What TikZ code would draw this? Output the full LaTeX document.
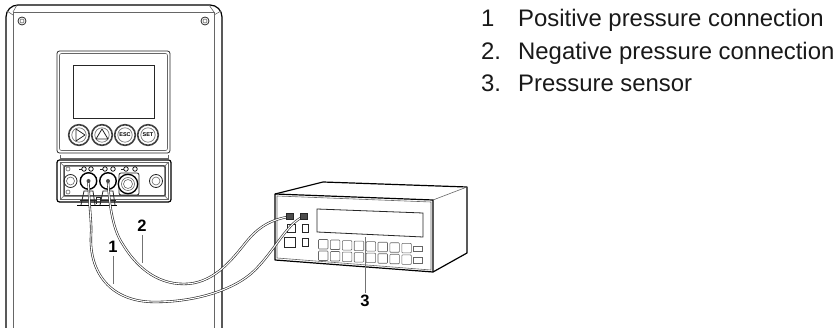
\documentclass[tikz,border=0pt]{standalone}
\usepackage{fontspec}
\setmainfont{Liberation Sans}
\begin{document}
\begin{tikzpicture}[x=1pt,y=-1pt,
  heavy/.style={line width=1.2pt,black},
  med/.style={line width=.8pt,black!85},
  thin/.style={line width=.6pt,black!60},
  leader/.style={line width=.8pt,black!55},
  cable/.style={line width=.6pt,black!85,double=white,double distance=1.1pt},
  listtext/.style={anchor=base west,inner sep=0pt,font=\fontsize{23.9}{26}\selectfont,text=black!90},
  callout/.style={inner sep=0pt,font=\fontsize{16.5}{18}\selectfont\bfseries},
  btnlabel/.style={inner sep=0pt,font=\fontsize{5.5}{6}\selectfont\bfseries},
  port/.style={circle,draw,line width=.7pt,inner sep=0pt,minimum size=4.5pt},
  hose/.style={circle,draw,line width=1.4pt,inner sep=0pt,minimum size=16.5pt},
  jack/.style={draw=black!85,fill=black!70,line width=.6pt,inner sep=0pt,minimum width=6.5pt,minimum height=6pt}]
\useasboundingbox (0,0) rectangle (839,328);
% housing
\draw[heavy] (6,328) -- (6,17) to[out=90,in=180] (18,5) -- (210,5) to[out=0,in=90] (222,17) -- (222,328);
\draw[thin] (13,328) -- (13,12) -- (214,12) -- (214,328);
\draw[thin] (7,11) -- (13,15) (13,12) -- (17,5) (214,12) -- (209,5) (214,15) -- (221,11);
\foreach \p in {(22,21),(205,21)} {
  \draw[med] \p circle (4); \draw[thin] \p circle (2);}
% control panel
\draw[med,rounded corners=2.5] (57,51) rectangle (170,153);
\draw[thin,rounded corners=2] (59.5,53.5) rectangle (167.5,150.5);
\draw[med] (73,65) rectangle (154,118);
\foreach \cx/\t in {79/,102/,125/ESC,148/SET} {
  \draw[line width=1.6pt,black!75] (\cx,135) circle (10.3);
  \draw[thin] (\cx,135) circle (7.2);
  \node[btnlabel] at (\cx,135) {\t};}
\draw[med,line join=round] (76,129) -- (85,135) -- (76,141) -- cycle;
\draw[med,line join=round] (102,129) -- (108,139) -- (96,139) -- cycle;
% connector panel
\draw[thin] (60,155) -- (60,158) -- (168,158) -- (168,155);
\draw[heavy,rounded corners=2.5] (57,160) rectangle (171,202);
\draw[line width=1.5pt,black!70,rounded corners=1] (64,166) rectangle (165,196);
\draw[thin] (60,162.5) rectangle (168,199.5);
\draw[thin] (60,162.5) -- (64,166) (168,162.5) -- (165,166) (60,199.5) -- (64,196) (168,199.5) -- (165,196);
\foreach \x in {84,91,105,113,126,135} \node[port] at (\x,169) {};
\foreach \x in {79,100,121} \draw[med] (\x,169.5) -- (\x+3,169.5);
\foreach \p in {(68,169),(68,192)} \draw[thin] \p circle (2);
\draw[med] (70.5,181) circle (6.5); \draw[thin] (70.5,181) circle (4);
\draw[med] (156,181) circle (6.5); \draw[thin] (156,181) circle (4);
\node[hose] (portA) at (88.5,181) {};
\node[hose] (portB) at (108,181) {};
\draw[med,rounded corners=2] (119,173) rectangle (139,195);
\draw[line width=1.3pt,fill=white] (128,184) circle (9.7);
\draw[thin] (128,184) circle (6.5);
\draw[thin] (128,184) circle (4.5);
% brackets
\draw[heavy] (77,205.5) -- (117,205.5);
\draw[med] (81,205) -- (84,191) -- (93,191) -- (95,205) (100,205) -- (103,191) -- (113,191) -- (115,205);
\draw[med] (80,200.5) -- (96,200.5) (100,200.5) -- (116,200.5);
\draw[med] (96,204) -- (96,197) -- (100,197) -- (100,204);
% meter
\draw[heavy,line join=round] (275,194) -- (323,182) -- (467,187) -- (467,253) -- (433,272) -- (275,260) -- cycle;
\draw[heavy] (275,194) -- (433,200) -- (433,272);
\draw[thin] (433,200) -- (467,187);
\draw[thin] (277,196) -- (431,202) -- (431,270) -- (277,258) -- cycle;
\draw[med] (317,209) -- (423,213) -- (423,237) -- (317,232) -- cycle;
\foreach \i in {0,...,7} {
  \pgfmathsetmacro{\kx}{318.5+11.9*\i}
  \pgfmathsetmacro{\ky}{239.5+.55*\i}
  \draw[thin,rounded corners=.8] (\kx,\ky) rectangle +(9.5,9.5);
  \draw[thin,rounded corners=.8] (\kx,\ky+11.5) rectangle +(9.5,9.5);}
\draw[thin] (413,246) rectangle (422,251.5);
\draw[thin] (413,257.5) rectangle (422,263);
\draw[med] (287,224) rectangle (295,232);
\draw[med] (302,224) rectangle (308,232);
\draw[med] (284,237) rectangle (295,247);
\draw[med] (302,238) rectangle (308,246);
\node[jack] (connA) at (290,216.5) {};
\node[jack] (connB) at (304,216.5) {};
% cables
\draw[cable] (portB.center) .. controls (109,200) and (112,228) .. (122,243)
  .. controls (135,265) and (155,284) .. (184,284)
  .. controls (212,284) and (230,262) .. (243,246)
  .. controls (256,229) and (268,220) .. (connA.center);
\draw[cable] (portA.center) .. controls (89,205) and (92,225) .. (91,235)
  .. controls (89,272) and (110,302) .. (155,302)
  .. controls (195,302) and (235,290) .. (255,270)
  .. controls (275,250) and (288,222) .. (connB.center);
\fill[black!70] (portA.center) circle (2) (portB.center) circle (2);
\node[jack] at (connA) {};
\node[jack] at (connB) {};
% callouts
\node[callout] (labA) at (113,247) {1};
\node[callout] (labB) at (142,226) {2};
\node[callout] (labC) at (365,301) {3};
\coordinate (tipA) at (113,284);
\coordinate (tipB) at (142,263);
\coordinate (tipC) at (365,237);
\draw[leader] (113,256) -- (tipA);
\draw[leader] (142,235) -- (tipB);
\draw[leader] (365,293) -- (tipC);
% list
\node[listtext] (n1) at (481,27) {1};
\node[listtext] (t1) at (518,27) {Positive pressure connection};
\node[listtext] (n2) at (481,59.5) {2.};
\node[listtext] (t2) at (518,59.5) {Negative pressure connection};
\node[listtext] (n3) at (481,92) {3.};
\node[listtext] (t3) at (518,92) {Pressure sensor};
\end{tikzpicture}
\end{document}
